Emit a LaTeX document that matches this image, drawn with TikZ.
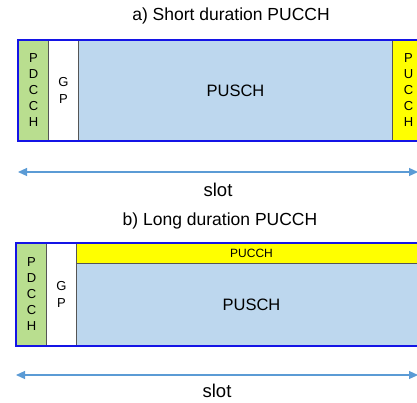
\documentclass[tikz,border=0pt]{standalone}
\usepackage{fontspec}
\setmainfont{Liberation Sans}
\usetikzlibrary{arrows.meta}
\definecolor{pdcchgreen}{RGB}{185,222,143}
\definecolor{puschblue}{RGB}{189,215,238}
\definecolor{pucchyellow}{RGB}{255,255,0}
\definecolor{slotblue}{RGB}{91,155,213}
\definecolor{framegray}{RGB}{85,85,85}
\definecolor{frameblue}{RGB}{20,20,230}

\tikzset{
  field/.style={draw=framegray, line width=1pt, inner sep=0pt, anchor=north west},
  letters/.style={align=center, font=\fontsize{13}{16}\selectfont},
  frame/.style={draw=frameblue, line width=1.6pt},
  slotarrow/.style={slotblue, line width=1.2pt, {Triangle[length=9pt,width=8pt]}-{Triangle[length=9pt,width=8pt]}},
  slotlabel/.style={black, inner sep=0pt, font=\fontsize{18.5}{22}\selectfont},
  title/.style={font=\fontsize{17.5}{20}\selectfont}
}

\begin{document}
\begin{tikzpicture}[x=1pt,y=-1pt]
\useasboundingbox (0,0) rectangle (417,402);
\clip (0,0) rectangle (417,402);
% a) short duration PUCCH
\node[title] (titleA) at (231,16) {a) Short duration PUCCH};
\node[field, fill=pdcchgreen, minimum width=30pt, minimum height=100pt, letters] (pdcchA) at (18,40) {P\\D\\C\\C\\H};
\node[field, fill=white, minimum width=30pt, minimum height=100pt, letters, font=\fontsize{13}{17}\selectfont] (gpA) at (48,40) {G\\P};
\node[field, fill=puschblue, minimum width=314pt, minimum height=100pt, font=\fontsize{16.5}{19}\selectfont] (puschA) at (78,40) {PUSCH};
\node[field, fill=pucchyellow, minimum width=32pt, minimum height=100pt, letters] (pucchA) at (392,40) {P\\U\\C\\C\\H};
\draw[frame] (pdcchA.north west) rectangle (pucchA.south east);
\coordinate (slotAl) at (18,172);
\coordinate (slotAr) at (418,172);
\draw[slotarrow] (slotAl) -- (slotAr) node[midway, yshift=-18pt, slotlabel] (slotA) {slot};
% b) long duration PUCCH
\node[title] (titleB) at (220,221) {b) Long duration PUCCH};
\node[field, fill=pdcchgreen, minimum width=30pt, minimum height=102pt, letters] (pdcchB) at (16,243) {P\\D\\C\\C\\H};
\node[field, fill=white, minimum width=30pt, minimum height=102pt, letters, font=\fontsize{13}{17}\selectfont] (gpB) at (46,243) {G\\P};
\node[field, fill=pucchyellow, minimum width=350pt, minimum height=20pt, font=\fontsize{12}{14}\selectfont] (pucchB) at (76,243) {PUCCH};
\node[field, fill=puschblue, minimum width=350pt, minimum height=82pt, font=\fontsize{16.5}{19}\selectfont] (puschB) at (76,263) {PUSCH};
\draw[frame] (pdcchB.north west) rectangle (puschB.south east);
\coordinate (slotBl) at (16,375);
\coordinate (slotBr) at (418,375);
\draw[slotarrow] (slotBl) -- (slotBr) node[midway, yshift=-16pt, slotlabel] (slotB) {slot};
\end{tikzpicture}
\end{document}
